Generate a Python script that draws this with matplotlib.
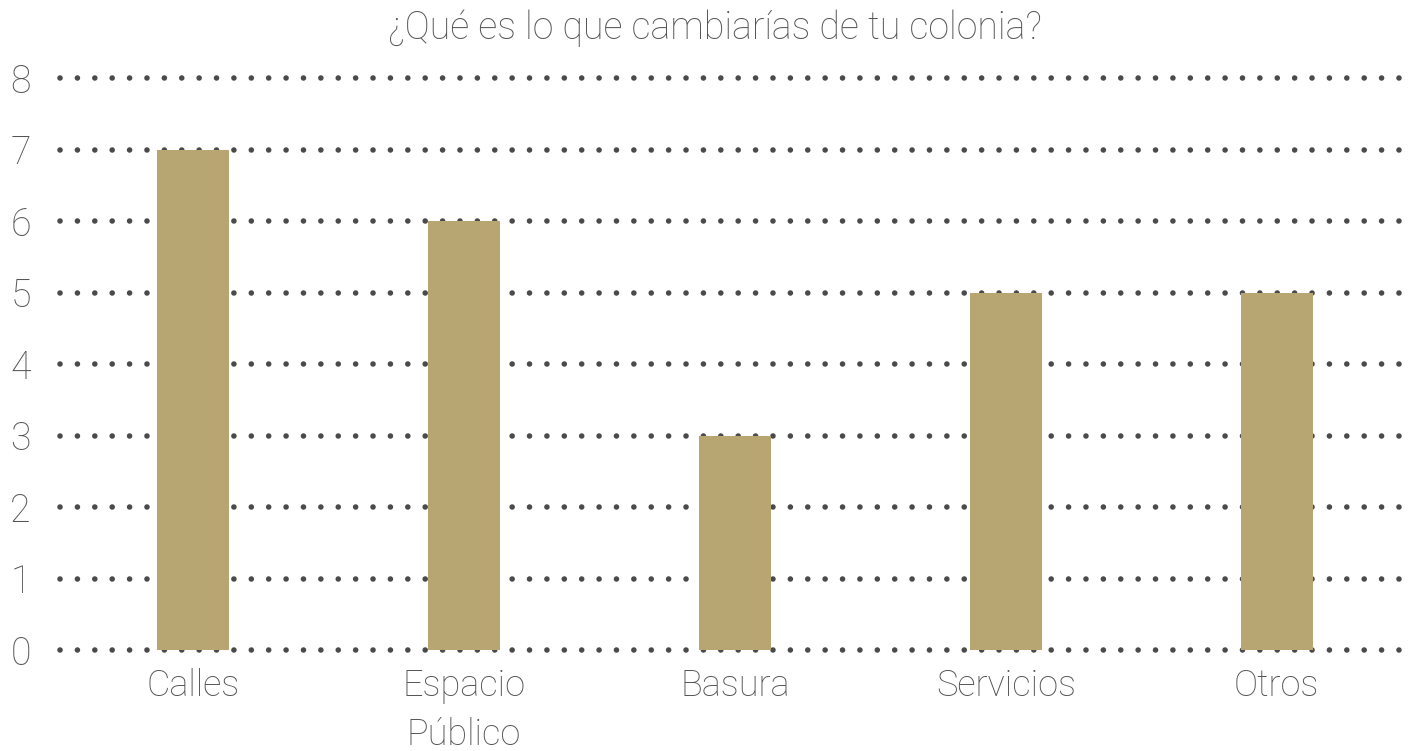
import matplotlib.pyplot as plt

# datos de la encuesta
categorias = ['Calles', 'Espacio\nPúblico', 'Basura', 'Servicios', 'Otros']
valores = [7, 6, 3, 5, 5]
ticks_y = [0, 1, 2, 3, 4, 5, 6, 7, 8]

color_barra = '#b8a672'
color_texto = '#555555'
color_puntos = '#4a4a4a'

plt.rcParams['font.family'] = ['Roboto', 'DejaVu Sans']

fig = plt.figure(figsize=(14.21, 7.51), dpi=100)
ax = fig.add_axes([60 / 1421, 101 / 751, 1355 / 1421, 572 / 751])

x = list(range(len(categorias)))
ax.bar(x, valores, width=0.265, color=color_barra, zorder=3)

# líneas punteadas horizontales
for t in ticks_y:
    ax.axhline(t, color=color_puntos, linewidth=4.0, linestyle=(0, (0.01, 3.12)),
               dash_capstyle='round', zorder=2, clip_on=False)

ax.set_xlim(-0.49, 4.51)
ax.set_ylim(0, 8)
ax.set_yticks(ticks_y)
ax.set_yticklabels([str(t) for t in ticks_y], fontsize=27, fontweight='light',
                   color=color_texto)
ax.set_xticks(x)
ax.set_xticklabels(categorias, fontsize=26, fontweight='light', color=color_texto,
                   linespacing=1.45)
ax.tick_params(axis='y', length=0, pad=21)
ax.tick_params(axis='x', length=0, pad=13)

for s in ax.spines.values():
    s.set_visible(False)

fig.text(0.503, 0.963, '¿Qué es lo que cambiarías de tu colonia?', ha='center', va='center',
         fontsize=27, fontweight='light', color=color_texto)

fig.savefig('out.png', dpi=100, facecolor='white')
